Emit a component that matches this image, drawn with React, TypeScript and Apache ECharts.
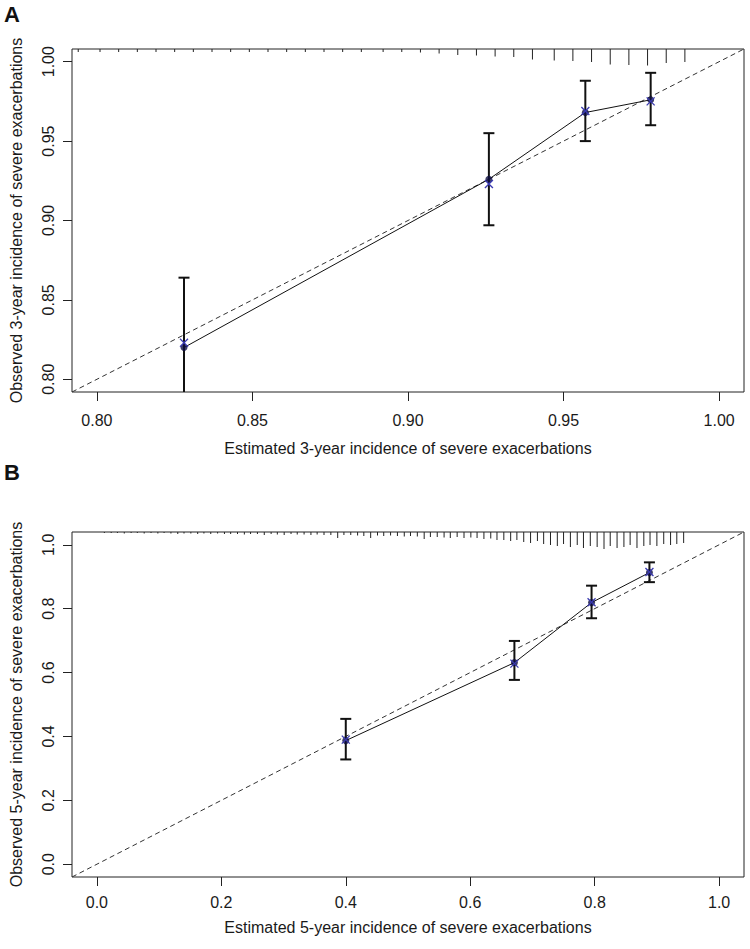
import React, { useEffect, useRef } from "react";
import * as echarts from "echarts";

// ---------- Panel A (3-year) ----------
const topTicks = [0.8, 0.85, 0.9, 0.95, 1.0];
const topPred = [0.828, 0.926, 0.957, 0.978];
const topObs = [0.82, 0.926, 0.968, 0.976];
const topLow = [0.778, 0.897, 0.95, 0.96];
const topHigh = [0.864, 0.955, 0.988, 0.993];
const topCorrected = [0.823, 0.923, 0.969, 0.975];
const topRugX = [
  0.794, 0.801, 0.807, 0.813, 0.819, 0.825, 0.831, 0.837, 0.843, 0.849, 0.855,
  0.861, 0.867, 0.873, 0.879, 0.885, 0.892, 0.898, 0.904, 0.91, 0.916, 0.922,
  0.928, 0.934, 0.94, 0.947, 0.953, 0.959, 0.965, 0.971, 0.977, 0.983, 0.989,
];
const topRugFreq = [
  3, 3, 3, 3, 3, 3, 3, 3, 3, 3, 3, 3, 3, 3, 3, 3, 3, 3, 3.5, 4.5, 6, 6.5, 7.5,
  8, 10.5, 11.5, 12, 13, 15.5, 16, 16.5, 14, 13,
];

// ---------- Panel B (5-year) ----------
const botTicks = [0, 0.2, 0.4, 0.6, 0.8, 1.0];
const botPred = [0.4, 0.671, 0.795, 0.888];
const botObs = [0.387, 0.631, 0.819, 0.913];
const botLow = [0.328, 0.577, 0.77, 0.883];
const botHigh = [0.455, 0.699, 0.872, 0.945];
const botCorrected = [0.39, 0.628, 0.82, 0.915];
const botRugX = [
  0.012, 0.023, 0.033, 0.044, 0.055, 0.065, 0.076, 0.087, 0.098, 0.108, 0.119,
  0.13, 0.14, 0.151, 0.162, 0.172, 0.183, 0.194, 0.205, 0.215, 0.226, 0.237,
  0.247, 0.258, 0.269, 0.28, 0.29, 0.301, 0.312, 0.322, 0.333, 0.344, 0.354,
  0.365, 0.376, 0.387, 0.397, 0.408, 0.419, 0.429, 0.44, 0.451, 0.461, 0.472,
  0.483, 0.494, 0.504, 0.515, 0.526, 0.536, 0.547, 0.558, 0.568, 0.579, 0.59,
  0.601, 0.611, 0.622, 0.633, 0.643, 0.654, 0.665, 0.675, 0.686, 0.697, 0.708,
  0.718, 0.729, 0.74, 0.75, 0.761, 0.772, 0.782, 0.793, 0.804, 0.815, 0.825,
  0.836, 0.847, 0.857, 0.868, 0.879, 0.889, 0.9, 0.911, 0.922, 0.932, 0.943,
];
const botRugFreq = [
  1, 1, 1, 1.5, 1, 1, 1.5, 1, 1.5, 1, 1.5, 2, 1.5, 1.5, 2, 1.5, 2, 1.5, 2, 2, 2,
  2.5, 2, 2, 3, 2, 2.5, 3, 2, 2.5, 2.5, 3, 2.5, 3, 3, 6, 3, 3, 3.5, 4, 6, 3.5, 4,
  3.5, 4, 4.5, 4, 4.5, 7, 5, 5, 5.5, 6, 5, 6, 5.5, 6, 7, 6.5, 8, 8, 9, 8, 10, 11,
  9, 12, 13, 14, 12, 15, 13, 16, 14, 15, 17, 14, 16, 15, 13, 16, 14, 13, 14, 12,
  13, 12, 11,
];

const TOP_RANGE = [0.792, 1.008];
const BOT_RANGE = [-0.04, 1.04];
const FONT = "'Liberation Sans', Arial, Helvetica, sans-serif";
const FS = 16;
const INK = "#1a1a1a";
const RUG_PX = 1;

function errorBarItem(yMin: number) {
  return (params: any, api: any) => {
    const x = api.value(0);
    const lo = api.value(1);
    const hi = api.value(2);
    const loC = Math.max(lo, yMin);
    const pT = api.coord([x, hi]);
    const pB = api.coord([x, loC]);
    const style = { stroke: "#111", lineWidth: 2 };
    const children: any[] = [
      { type: "line", shape: { x1: pT[0], y1: pT[1], x2: pB[0], y2: pB[1] }, style },
      { type: "line", shape: { x1: pT[0] - 5.5, y1: pT[1], x2: pT[0] + 5.5, y2: pT[1] }, style },
    ];
    if (lo >= yMin) {
      children.push({ type: "line", shape: { x1: pB[0] - 5.5, y1: pB[1], x2: pB[0] + 5.5, y2: pB[1] }, style });
    }
    return { type: "group", children };
  };
}

function crossItem(params: any, api: any) {
  const p = api.coord([api.value(0), api.value(1)]);
  const s = 4;
  const style = { stroke: "#3a3ab0", lineWidth: 1.3 };
  return {
    type: "group",
    children: [
      { type: "line", shape: { x1: p[0] - s, y1: p[1] - s, x2: p[0] + s, y2: p[1] + s }, style },
      { type: "line", shape: { x1: p[0] - s, y1: p[1] + s, x2: p[0] + s, y2: p[1] - s }, style },
    ],
  };
}

function rugItem(yTop: number) {
  return (params: any, api: any) => {
    const p = api.coord([api.value(0), yTop]);
    const len = api.value(1) * RUG_PX;
    return {
      type: "line",
      shape: { x1: p[0], y1: p[1], x2: p[0], y2: p[1] + len },
      style: { stroke: "#222", lineWidth: 1 },
    };
  };
}

function xAxisCfg(idx: number, range: number[], ticks: number[], name: string, digits: number, margin: number, gap: number) {
  return {
    gridIndex: idx,
    type: "value",
    min: range[0],
    max: range[1],
    name,
    nameLocation: "middle",
    nameGap: gap,
    nameTextStyle: { fontSize: FS, color: INK, fontFamily: FONT },
    axisLine: { show: false, onZero: false },
    axisTick: { show: true, length: 9, customValues: ticks, lineStyle: { color: "#222", width: 1 } },
    axisLabel: {
      customValues: ticks,
      formatter: (v: number) => v.toFixed(digits),
      margin,
      fontSize: FS,
      color: INK,
      fontFamily: FONT,
    },
    splitLine: { show: false },
  };
}

function yAxisCfg(idx: number, range: number[], ticks: number[], name: string, digits: number) {
  return {
    gridIndex: idx,
    type: "value",
    min: range[0],
    max: range[1],
    name,
    nameLocation: "middle",
    nameGap: 48,
    nameTextStyle: { fontSize: FS, color: INK, fontFamily: FONT },
    axisLine: { show: false, onZero: false },
    axisTick: { show: true, length: 9, customValues: ticks, lineStyle: { color: "#222", width: 1 } },
    axisLabel: {
      customValues: ticks,
      rotate: 90,
      formatter: (v: number) => v.toFixed(digits),
      margin: 16,
      fontSize: FS,
      color: INK,
      fontFamily: FONT,
    },
    splitLine: { show: false },
  };
}

function panelSeries(
  idx: number,
  range: number[],
  pred: number[],
  obs: number[],
  low: number[],
  high: number[],
  corr: number[],
  rugX: number[],
  rugF: number[]
) {
  return [
    {
      type: "line",
      xAxisIndex: idx,
      yAxisIndex: idx,
      data: [
        [range[0], range[0]],
        [range[1], range[1]],
      ],
      showSymbol: false,
      symbol: "none",
      lineStyle: { color: "#333", width: 1, type: [5, 3.5] },
      z: 1,
      silent: true,
    },
    {
      type: "line",
      xAxisIndex: idx,
      yAxisIndex: idx,
      data: pred.map((x, i) => [x, obs[i]]),
      showSymbol: false,
      symbol: "none",
      lineStyle: { color: "#111", width: 1 },
      z: 2,
    },
    {
      type: "custom",
      xAxisIndex: idx,
      yAxisIndex: idx,
      data: rugX.map((x, i) => [x, rugF[i]]),
      renderItem: rugItem(range[1]),
      z: 2,
      silent: true,
    },
    {
      type: "custom",
      xAxisIndex: idx,
      yAxisIndex: idx,
      data: pred.map((x, i) => [x, low[i], high[i]]),
      encode: { x: 0, y: [1, 2] },
      renderItem: errorBarItem(range[0]),
      z: 3,
    },
    {
      type: "scatter",
      xAxisIndex: idx,
      yAxisIndex: idx,
      data: pred.map((x, i) => [x, obs[i]]),
      symbol: "circle",
      symbolSize: 7,
      itemStyle: { color: "#0c0c40" },
      z: 4,
    },
    {
      type: "custom",
      xAxisIndex: idx,
      yAxisIndex: idx,
      data: pred.map((x, i) => [x, corr[i]]),
      renderItem: crossItem,
      z: 5,
    },
  ];
}

export default function App() {
  const ref = useRef<HTMLDivElement>(null);
  useEffect(() => {
    if (!ref.current) return;
    const chart = echarts.init(ref.current, undefined, { renderer: "svg" });
    chart.setOption({
      animation: false,
      backgroundColor: "#fff",
      textStyle: { fontFamily: FONT },
      grid: [
        { left: 69, right: 6, top: 49, height: 343, show: true, borderColor: "#222", borderWidth: 1, backgroundColor: "transparent" },
        { left: 69, right: 6, top: 532, height: 345, show: true, borderColor: "#222", borderWidth: 1, backgroundColor: "transparent" },
      ],
      xAxis: [
        xAxisCfg(0, TOP_RANGE, topTicks, "Estimated 3-year incidence of severe exacerbations", 2, 20, 48),
        xAxisCfg(1, BOT_RANGE, botTicks, "Estimated 5-year incidence of severe exacerbations", 1, 17, 42),
      ],
      yAxis: [
        yAxisCfg(0, TOP_RANGE, topTicks, "Observed 3-year incidence of severe exacerbations", 2),
        yAxisCfg(1, BOT_RANGE, botTicks, "Observed 5-year incidence of severe exacerbations", 1),
      ],
      graphic: [
        { type: "text", left: 4, top: 3, style: { text: "A", font: `bold 22px ${FONT}`, fill: "#111" } },
        { type: "text", left: 4, top: 461, style: { text: "B", font: `bold 22px ${FONT}`, fill: "#111" } },
      ],
      series: [
        ...panelSeries(0, TOP_RANGE, topPred, topObs, topLow, topHigh, topCorrected, topRugX, topRugFreq),
        ...panelSeries(1, BOT_RANGE, botPred, botObs, botLow, botHigh, botCorrected, botRugX, botRugFreq),
      ],
    });
    return () => chart.dispose();
  }, []);
  return (
    <div
      ref={ref}
      style={{ position: "absolute", left: 0, top: 0, width: 750, height: 949, background: "#fff" }}
    />
  );
}
